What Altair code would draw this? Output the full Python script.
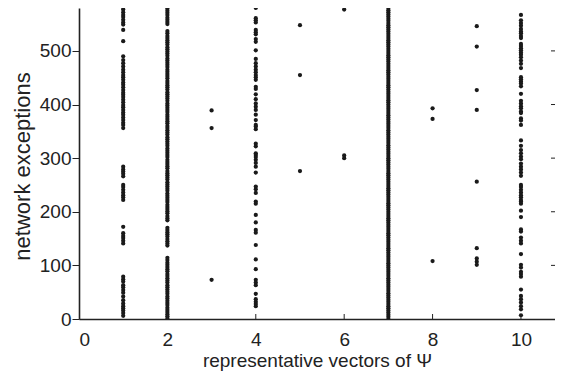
import altair as alt
import pandas as pd

# ---- data (x = representative vector index, y = network exceptions)
col1 = [595, 590, 586, 582, 577, 572, 567, 563, 558, 553, 549, 539, 518, 490, 483, 477, 471,
        465, 460, 455, 451, 446, 441, 437, 432, 427, 422, 418, 414, 409, 404, 399, 395, 390,
        385, 381, 376, 371, 366, 362, 356, 284, 279, 275, 271, 266, 250, 246, 241, 236, 231,
        227, 222, 172, 160, 155, 151, 146, 141, 79, 74, 70, 63, 59, 54, 49, 42, 35, 29, 24,
        20, 16, 11, 6]
col2 = [1, 5, 9, 13, 17, 21, 26, 30, 34, 38, 42, 47, 51, 55, 59, 63, 68, 72, 76, 80, 84, 89,
        93, 97, 101, 105, 110, 114, 137, 141, 145, 149, 154, 158, 162, 166, 170, 184, 188,
        192, 197, 201, 205, 209, 213, 218, 222, 226, 230, 234, 239, 243, 247, 251, 255, 260,
        264, 268, 272, 276, 281, 285, 289, 293, 297, 302, 306, 310, 314, 318, 323, 327, 331,
        335, 339, 344, 348, 352, 356, 360, 365, 369, 373, 377, 381, 386, 390, 394, 398, 402,
        407, 411, 415, 419, 423, 428, 432, 436, 440, 444, 449, 453, 457, 461, 465, 470, 474,
        478, 482, 486, 491, 495, 499, 503, 507, 512, 516, 520, 524, 528, 533, 537, 550, 554,
        558, 562, 567, 571, 575, 579, 584, 588, 592, 596]
col3 = [587, 389, 356, 73]
col4 = [594, 589, 584, 580, 561, 557, 553, 539, 535, 531, 522, 517, 501, 485, 477, 471, 465,
        460, 455, 451, 446, 433, 429, 419, 410, 402, 396, 390, 381, 371, 362, 359, 354, 327,
        322, 309, 306, 302, 297, 291, 284, 273, 247, 242, 235, 219, 215, 194, 180, 166, 161,
        138, 111, 93, 73, 68, 63, 47, 37, 32, 28, 24]
col5 = [592, 548, 455, 276]
col6 = [577, 305, 300]
col7 = [0, 4, 8, 12, 16, 20, 24, 28, 32, 36, 40, 44, 48, 52, 56, 60, 64, 68, 72, 76, 80, 84,
        88, 92, 96, 100, 104, 108, 112, 116, 120, 124, 128, 132, 136, 140, 144, 148, 152, 156,
        160, 164, 168, 172, 176, 180, 184, 188, 192, 196, 200, 204, 208, 212, 216, 220, 224,
        228, 232, 236, 240, 244, 248, 252, 256, 260, 264, 268, 272, 276, 280, 284, 288, 292,
        296, 300, 304, 308, 312, 316, 320, 324, 328, 332, 336, 340, 344, 348, 352, 356, 360,
        364, 368, 372, 376, 380, 384, 388, 392, 396, 400, 404, 408, 412, 416, 420, 424, 428,
        432, 436, 440, 444, 448, 452, 456, 460, 464, 468, 472, 476, 480, 484, 488, 492, 496,
        500, 504, 508, 512, 516, 520, 524, 528, 532, 536, 540, 544, 548, 552, 556, 560, 564,
        568, 572, 576, 580, 584, 588, 592, 596]
col8 = [393, 373, 108]
col9 = [546, 508, 427, 390, 256, 132, 113, 107, 101]
col10 = [586, 567, 557, 552, 547, 541, 536, 533, 528, 524, 513, 509, 505, 501, 497, 493, 488,
         482, 476, 468, 451, 447, 443, 439, 434, 420, 407, 402, 397, 393, 387, 384, 374, 370,
         362, 333, 323, 315, 309, 303, 298, 290, 284, 279, 273, 267, 250, 246, 241, 236, 231,
         227, 222, 219, 215, 202, 190, 167, 163, 152, 146, 141, 121, 101, 96, 88, 84, 79, 55,
         43, 37, 31, 24, 18, 7]

columns = [col1, col2, col3, col4, col5, col6, col7, col8, col9, col10]
x_ticks = [0, 2, 4, 6, 8, 10]
y_ticks = [0, 100, 200, 300, 400, 500]
x_title = "representative vectors of Ψ"
y_title = "network exceptions"

rows = []
for i, vals in enumerate(columns, start=1):
    for v in vals:
        rows.append({"x": i, "y": v})
df = pd.DataFrame(rows)

W, H = 476, 311
XMAX, YMAX = 10.77, 580
FONT = "Liberation Sans"
INK = "#222222"

xs = alt.Scale(domain=[0, XMAX], nice=False, zero=False)
ys = alt.Scale(domain=[0, YMAX], nice=False, zero=False)

x_axis = alt.Axis(
    values=x_ticks, tickSize=0, labelPadding=26, labelBaseline="alphabetic",
    labelFontSize=19, labelFont=FONT, labelColor=INK, grid=False,
    domainColor=INK, domainWidth=1.6, title=x_title, titleFont=FONT,
    titleFontSize=19, titleFontWeight="normal", titleColor=INK,
    titleBaseline="alphabetic", titleY=47)
y_axis = alt.Axis(
    values=y_ticks, tickSize=7, tickColor=INK, tickWidth=1, labelPadding=1,
    labelFontSize=19, labelFont=FONT, labelColor=INK, grid=False,
    domainColor=INK, domainWidth=1.6, title=y_title, titleFont=FONT,
    titleFontSize=22, titleFontWeight="normal", titleColor=INK,
    titleBaseline="alphabetic", titleAlign="center", titleX=-50, titleY=158)

points = alt.Chart(df).mark_circle(size=18, color="#1a1a1a", opacity=1, clip=True).encode(
    x=alt.X("x:Q", scale=xs, axis=x_axis),
    y=alt.Y("y:Q", scale=ys, axis=y_axis),
)

bottom_ticks = alt.Chart(pd.DataFrame({"x": x_ticks[1:]})).mark_rule(
    color=INK, strokeWidth=1).encode(
    x=alt.X("x:Q", scale=xs, axis=x_axis),
    y=alt.value(H - 5), y2=alt.value(H))

right_ticks = alt.Chart(pd.DataFrame({"y": y_ticks[1:]})).mark_rule(
    color=INK, strokeWidth=1).encode(
    y=alt.Y("y:Q", scale=ys, axis=y_axis),
    x=alt.value(W - 4), x2=alt.value(W))

chart = alt.layer(points, bottom_ticks, right_ticks).properties(
    width=W, height=H,
    autosize=alt.AutoSizeParams(type="none"),
    padding={"left": 71, "top": 0, "right": 0, "bottom": 52},
    background="white",
).configure_view(strokeWidth=0)

chart.save("out.html", embed_options={"renderer": "svg", "actions": False})
